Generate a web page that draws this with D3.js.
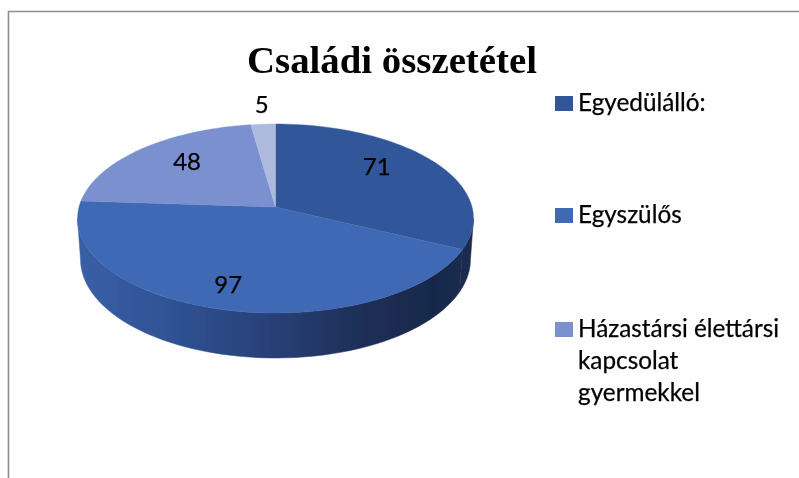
<!DOCTYPE html>
<html><head><meta charset="utf-8">
<script src="https://cdn.jsdelivr.net/npm/d3@7"></script>
<style>html,body{margin:0;padding:0;background:#fff}svg{display:block}</style>
</head><body><svg id="c" width="799" height="478"></svg>
<script>
const chartTitle = "Családi összetétel";
const sliceValues = [71, 97, 48, 5];
const legendLines = [["Egyedülálló:"], ["Egyszülős"], ["Házastársi élettársi", "kapcsolat", "gyermekkel"]];
const sliceColors = ["#30569a", "#3f69b5", "#7a90cf", "#adbade"];
const labelRadius = [0.71, 0.79, 0.70, 1.267];
const labelAngleShift = [-7.8, 1.4, 4.2, 0.4];
const legendBaselines = [111, 223, 337];
const wallStops = [[0, "#3a5fa6"], [0.25, "#2f5192"], [0.5, "#283f76"], [0.7, "#1e3059"], [0.9, "#18284a"], [1, "#1b2c50"]];

const svg = d3.select("#c");
const cx = 275.5, cy = 207, A = 93.1, B = 196.5, K = 0.1217;
const rad = d => d * Math.PI / 180;
const project = (t, r = 1) => {
  const x = r * Math.sin(t), y = -r * Math.cos(t), w = 1 - K * y;
  return [cx + B * x / w, cy + A * y / w];
};
const projectLow = t => {
  const p = project(t), u = -Math.cos(t);
  return [cx + (p[0] - cx) * 0.985, p[1] + 40 + 5 * Math.max(0, u)];
};
const line = d3.line();
const sample = (a, b, f) => d3.range(0, 61).map(i => f(a + (b - a) * i / 60));

const defs = svg.append("defs");
const soft = defs.append("filter").attr("id", "soft").attr("x", "0").attr("y", "0").attr("width", "100%").attr("height", "100%");
soft.append("feGaussianBlur").attr("stdDeviation", 0.45);
const grad = defs.append("linearGradient").attr("id", "wall").attr("gradientUnits", "userSpaceOnUse")
  .attr("x1", 77).attr("x2", 473).attr("y1", 0).attr("y2", 0);
wallStops.forEach(s => grad.append("stop").attr("offset", s[0]).attr("stop-color", s[1]));

const root = svg.append("g").attr("filter", "url(#soft)");
root.append("rect").attr("width", 799).attr("height", 478).attr("fill", "#fff");
root.append("path").attr("d", line([[8.5, 478], [8.5, 11.5], [799, 11.5]]))
  .attr("fill", "none").attr("stroke", "#8f8f8f").attr("stroke-width", 1.6);

root.append("text").text(chartTitle).attr("x", 392).attr("y", 73).attr("text-anchor", "middle")
  .attr("font-family", "'Liberation Serif'").attr("font-weight", "bold").attr("font-size", 38.8).attr("fill", "#000");

const arcs = d3.pie().sort(null).value(d => d)(sliceValues);
const wallA = rad(97), wallB = rad(263);
arcs.forEach(d => {
  const a = Math.max(d.startAngle, wallA), b = Math.min(d.endAngle, wallB);
  if (a >= b) return;
  root.append("path")
    .attr("d", line(sample(a, b, project).concat(sample(b, a, projectLow))) + "Z")
    .attr("fill", "url(#wall)").attr("stroke", "url(#wall)").attr("stroke-width", 0.5);
});
arcs.forEach((d, i) => {
  root.append("path")
    .attr("d", line([[cx, cy]].concat(sample(d.startAngle, d.endAngle, project))) + "Z")
    .attr("fill", sliceColors[i]).attr("stroke", sliceColors[i]).attr("stroke-width", 0.4);
});
arcs.forEach((d, i) => {
  const p = project((d.startAngle + d.endAngle) / 2 + rad(labelAngleShift[i]), labelRadius[i]);
  root.append("text").text(d.value).attr("x", p[0]).attr("y", p[1] + 8).attr("text-anchor", "middle")
    .attr("font-family", "Lato").attr("font-size", 24).attr("fill", "#000")
    .attr("stroke", "#000").attr("stroke-width", 0.25);
});

legendLines.forEach((lines, i) => {
  root.append("rect").attr("x", 555).attr("y", legendBaselines[i] - 15).attr("width", 18).attr("height", 15)
    .attr("fill", sliceColors[i]);
  lines.forEach((t, j) => {
    root.append("text").text(t).attr("x", 578).attr("y", legendBaselines[i] + j * 32)
      .attr("font-family", "Lato").attr("font-size", 24.3).attr("fill", "#000")
      .attr("stroke", "#000").attr("stroke-width", 0.25);
  });
});
</script>
</body></html>
